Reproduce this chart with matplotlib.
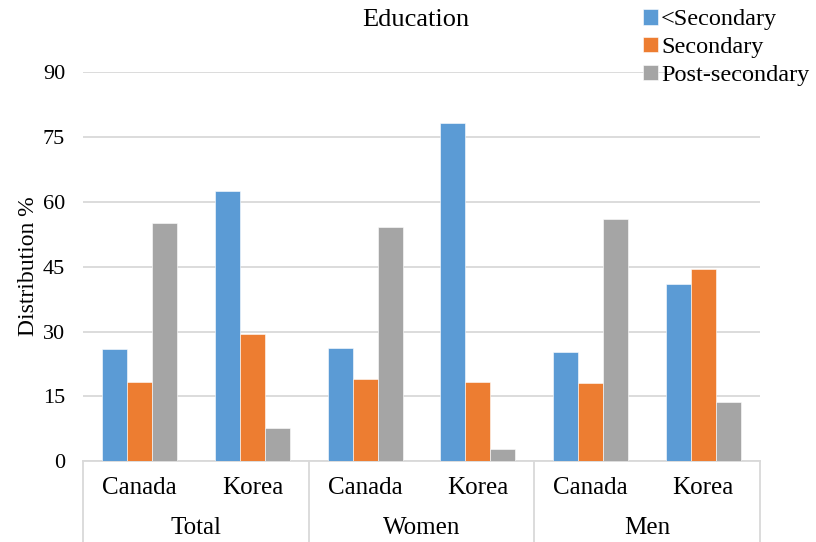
import numpy as np
import matplotlib.pyplot as plt

plt.rcParams['font.family'] = ['Liberation Serif', 'DejaVu Serif']

groups = ['Total', 'Women', 'Men']
countries = ['Canada', 'Korea']
series = ['<Secondary', 'Secondary', 'Post-secondary']
below_secondary = [25.9, 62.5, 26.2, 78.3, 25.3, 41.1]
secondary = [18.4, 29.4, 19.0, 18.3, 18.0, 44.5]
post_secondary = [55.0, 7.6, 54.2, 2.8, 56.0, 13.8]
colors = ['#5B9BD5', '#ED7D31', '#A5A5A5']

fig = plt.figure(figsize=(8.16, 5.42), dpi=100)
ax = fig.add_axes([0.102, 0.149, 0.829, 0.718])

x = np.arange(len(groups) * len(countries))
w = 0.222
for i, (vals, name) in enumerate(zip([below_secondary, secondary, post_secondary], series)):
    ax.bar(x + (i - 1) * w, vals, w, color=colors[i], label=name,
           edgecolor='white', linewidth=0.4, zorder=3)

ax.set_xlim(-0.5, len(x) - 0.5)
ax.set_ylim(0, 90)
ax.set_yticks(range(0, 91, 15))
ax.yaxis.grid(True, color='#d9d9d9', linewidth=1.3, zorder=0)
ax.tick_params(axis='y', length=0, labelsize=16, pad=13)
ax.set_xticks([])
for s in ['top', 'right', 'left', 'bottom']:
    ax.spines[s].set_visible(False)

ax.set_ylabel('Distribution %', fontsize=17, labelpad=3)
fig.text(0.509, 1 - 20 / 542, 'Education', ha='center', va='center', fontsize=19)

# two-level category axis drawn below the plot
trans = ax.get_xaxis_transform()
line_kw = dict(color='#d9d9d9', linewidth=1.3, clip_on=False, transform=trans)
ax.plot([-0.5, len(x) - 0.5], [0, 0], **line_kw)
for b in [-0.5, 1.5, 3.5, 5.5]:
    ax.plot([b, b], [0, -0.21], **line_kw)
for xi in x:
    ax.text(xi, -0.069, countries[xi % 2], ha='center', va='center', fontsize=18,
            transform=trans)
for g, name in enumerate(groups):
    ax.text(2 * g + 0.5, -0.171, name, ha='center', va='center', fontsize=18,
            transform=trans)

fig.legend(loc='upper left', bbox_to_anchor=(0.788, 0.983), frameon=False, fontsize=17.5,
           handlelength=0.6, handleheight=0.6, handletextpad=0.15, labelspacing=0.27,
           borderaxespad=0, borderpad=0)

fig.savefig('out.png', dpi=100)
